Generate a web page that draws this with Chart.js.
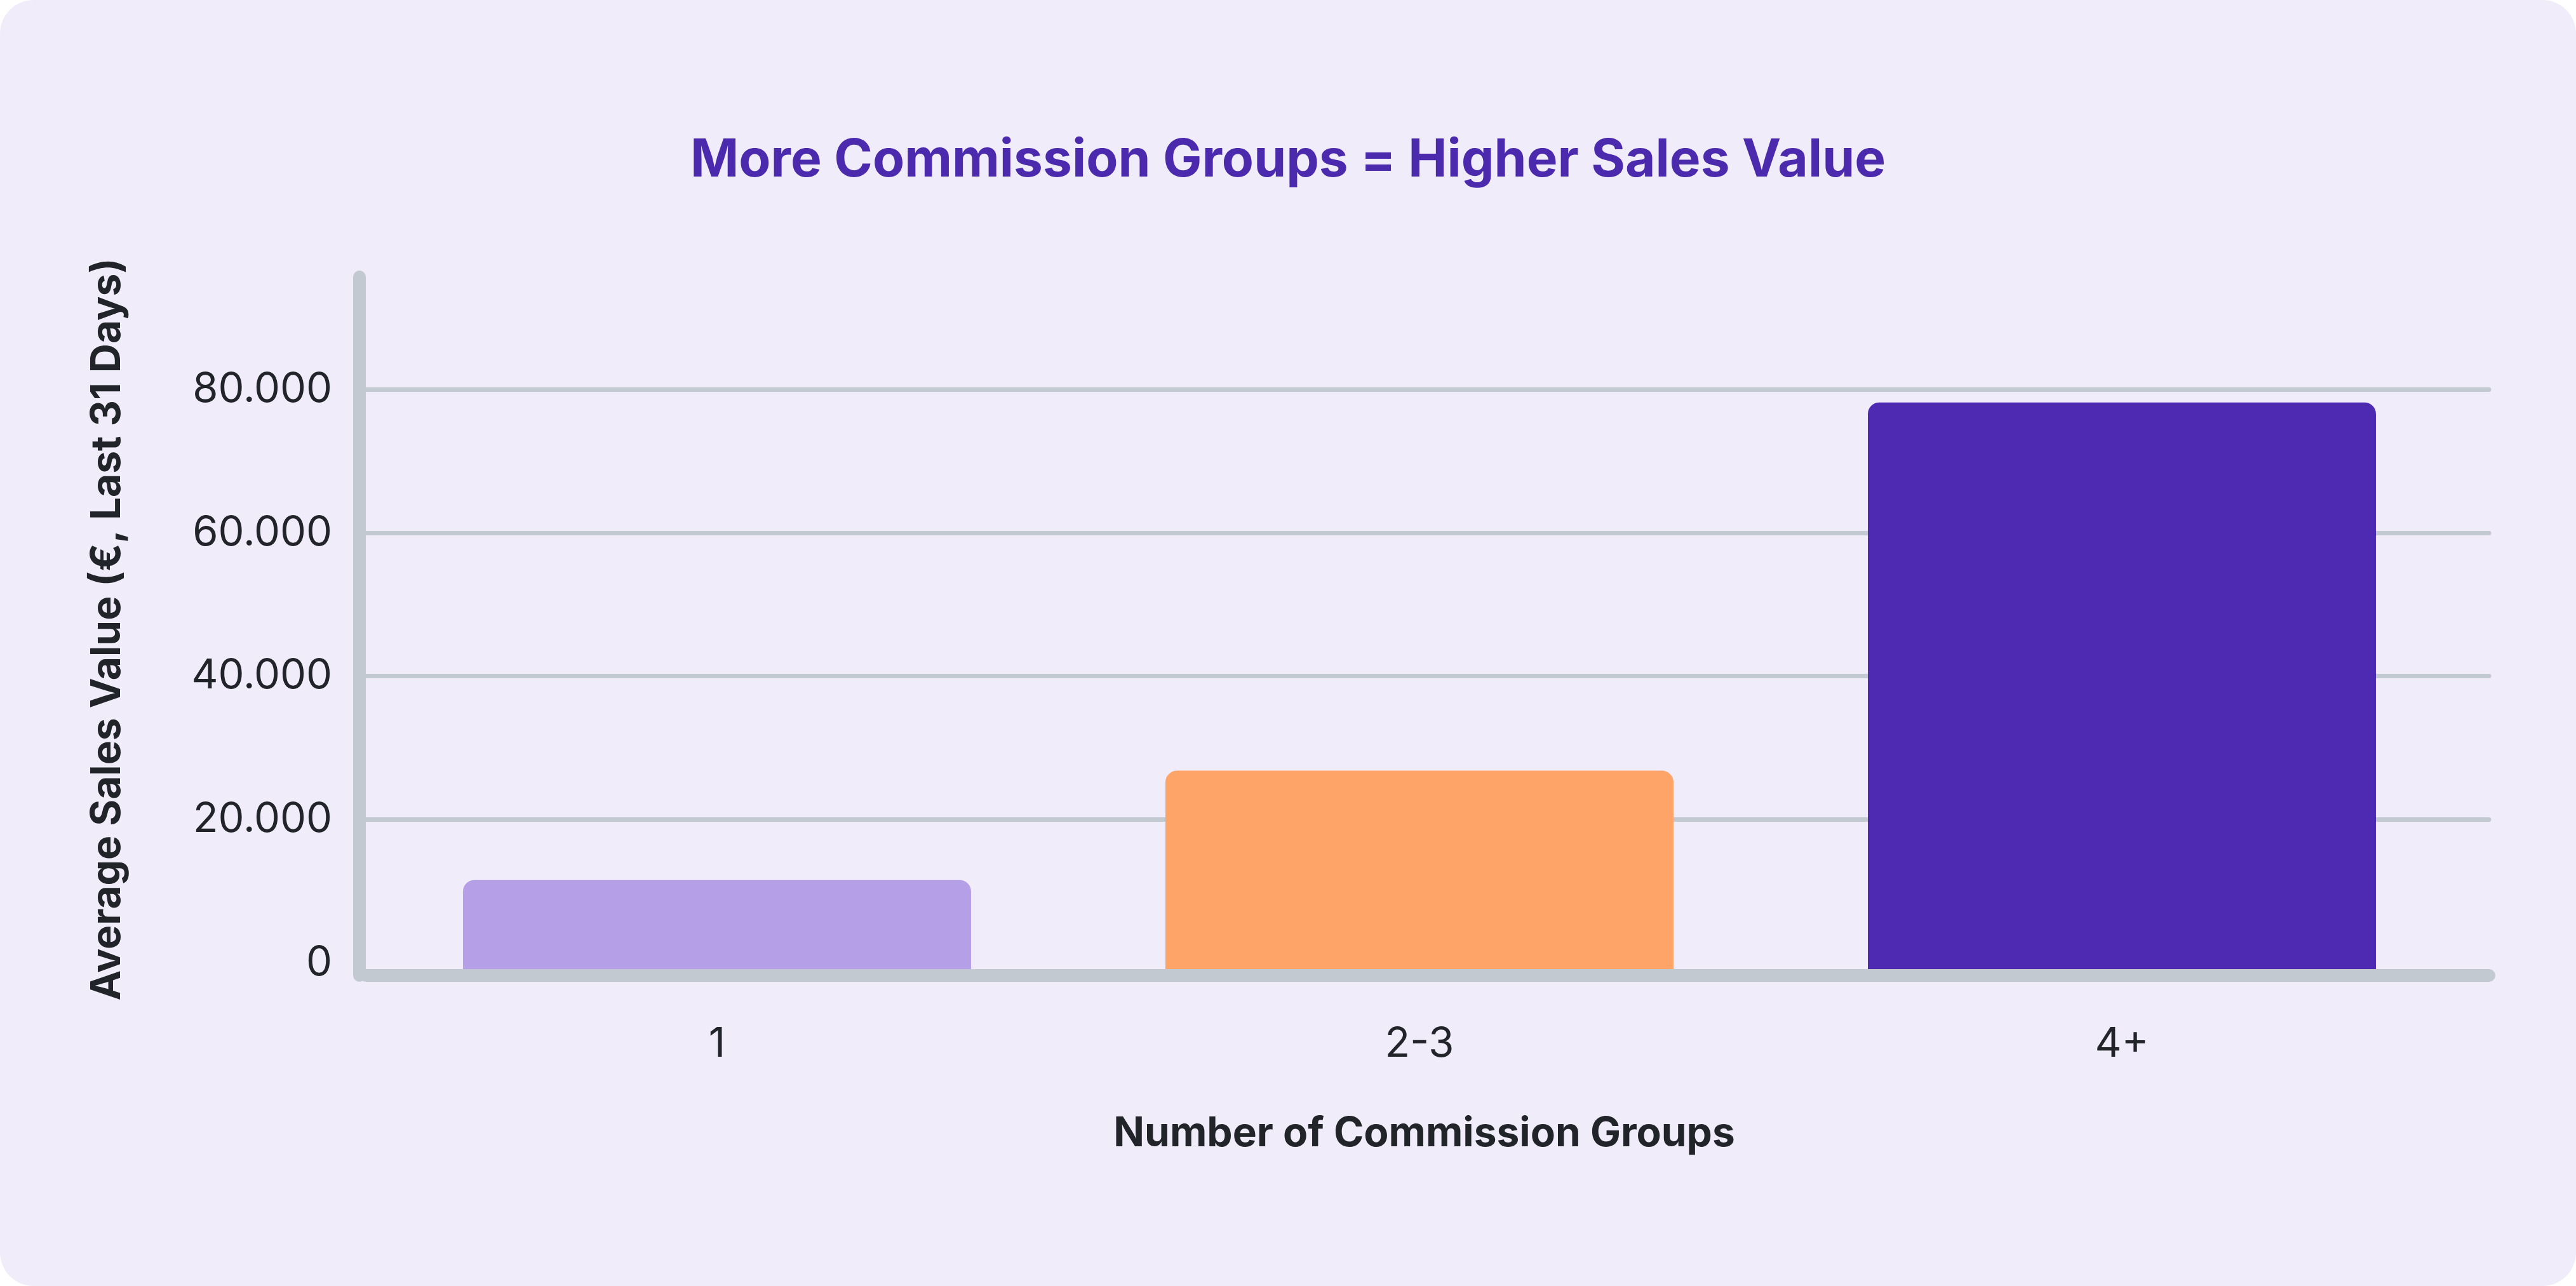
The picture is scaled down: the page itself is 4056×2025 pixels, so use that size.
<!DOCTYPE html>
<html>
<head>
<meta charset="utf-8">
<script src="https://cdn.jsdelivr.net/npm/chart.js@4.4.1/dist/chart.umd.min.js"></script>
<style>
  html, body { margin: 0; padding: 0; background: #ffffff; }
  #card { position: absolute; left: 0; top: 0; width: 4056px; height: 2025px; background: #F0ECFA; border-radius: 53px; overflow: hidden; }
  canvas { display: block; }
</style>
</head>
<body>
<div id="card"><canvas id="c" width="4056" height="2025"></canvas></div>
<script>
const chartTitle = 'More Commission Groups = Higher Sales Value';
const xAxisTitle = 'Number of Commission Groups';
const yAxisTitle = 'Average Sales Value (€, Last 31 Days)';
const categories = ['1', '2-3', '4+'];
const salesValues = [11550, 26800, 78200];
const barColors = ['#B5A0E8', '#FFA468', '#4E2AB2'];
const yTickValues = [0, 20000, 40000, 60000, 80000];

const Y_MIN = -1772, Y_MAX = 94834, BAR_BASE = -886;
const FONT = 'Inter';
const SIDE_PAD = 137;
const GRID = '#C3C9D0';

const roundCaps = {
  id: 'roundCaps',
  beforeDraw(chart) { chart.ctx.lineCap = 'round'; }
};

new Chart(document.getElementById('c'), {
  type: 'bar',
  data: {
    datasets: [{
      data: salesValues.map((v, i) => ({ x: i, y: v })),
      backgroundColor: barColors,
      borderWidth: 0,
      borderRadius: 18,
      borderSkipped: 'start',
      base: BAR_BASE,
      barPercentage: 0.7233,
      categoryPercentage: 1
    }]
  },
  options: {
    responsive: false,
    devicePixelRatio: 1,
    animation: false,
    layout: { padding: { left: SIDE_PAD, right: SIDE_PAD, top: 0, bottom: 0 } },
    plugins: {
      legend: { display: false },
      tooltip: { enabled: false },
      title: {
        display: true,
        text: chartTitle,
        color: '#4B2AAD',
        font: { family: FONT, size: 82, weight: 'bold', lineHeight: 1.2 },
        padding: { top: 204.3, bottom: 143.3 }
      }
    },
    scales: {
      x: {
        type: 'linear',
        offset: false,
        min: -0.509,
        max: 2.5226,
        afterBuildTicks: s => { s.ticks = categories.map((c, i) => ({ value: i })); },
        afterFit: s => { s.height = 2025 - 1536; },
        ticks: {
          callback: v => categories[v],
          color: '#212529',
          font: { family: FONT, size: 65, lineHeight: 1.2 },
          padding: 69,
          autoSkip: false,
          maxRotation: 0
        },
        grid: { display: false, drawTicks: false, offset: false },
        border: { display: false },
        title: {
          display: true,
          text: xAxisTitle,
          color: '#212529',
          font: { family: FONT, size: 64, weight: 'bold', lineHeight: 1.2 },
          padding: { top: 200.6, bottom: 200.6 }
        }
      },
      y: {
        min: Y_MIN,
        max: Y_MAX,
        afterBuildTicks: s => {
          s.ticks = yTickValues.map(v => ({ value: v })).concat([{ value: Y_MIN }]);
        },
        afterFit: s => { s.width = 566 - SIDE_PAD; },
        ticks: {
          callback: v => (v === Y_MIN ? '' : Number(v).toLocaleString('de-DE')),
          color: '#212529',
          font: { family: FONT, size: 65, lineHeight: 1.2 },
          padding: 43
        },
        grid: {
          drawTicks: false,
          lineWidth: ctx => {
            const v = ctx.tick ? ctx.tick.value : null;
            return v === 0 ? 0 : (v === Y_MIN ? 20 : 7);
          },
          color: ctx => (ctx.tick && ctx.tick.value === 0) ? 'rgba(0,0,0,0)' : GRID
        },
        border: { display: true, color: GRID, width: 20 },
        title: {
          display: true,
          text: yAxisTitle,
          color: '#212529',
          font: { family: FONT, size: 64, weight: 'bold', lineHeight: 0.5 },
          padding: { top: 17, bottom: 17 }
        }
      }
    }
  },
  plugins: [roundCaps]
});
</script>
</body>
</html>
